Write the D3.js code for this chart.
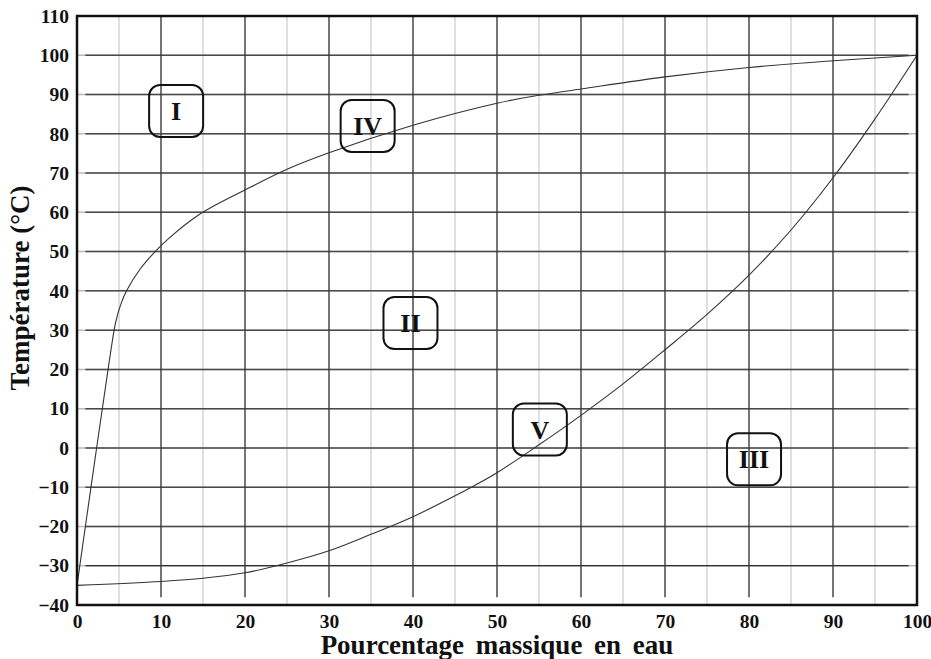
<!DOCTYPE html>
<html>
<head>
<meta charset="utf-8">
<script src="https://cdn.jsdelivr.net/npm/d3@7"></script>
<style>
  body { margin: 0; background: #fff; }
</style>
</head>
<body>
<svg id="chart"></svg>
<script>
// curve: upper boundary (x = % water, y = °C)
const upperX = [0, 2, 3.7, 4.6, 5.2, 5.9, 7.5, 9.3, 11, 14.6, 20, 25, 30, 40, 50, 55, 60, 70, 80, 90, 100];
const upperY = [-35, -5, 20, 32, 36.5, 40, 45.5, 50, 53.5, 59.5, 65.7, 71, 75.2, 82.2, 87.8, 89.8, 91.4, 94.5, 96.9, 98.6, 100];

// lower boundary
const lowerX = [0, 10, 15, 20, 25, 30, 35, 40, 45, 50, 55, 60, 65, 70, 75, 80, 85, 90, 95, 100];
const lowerY = [-35, -34, -33.2, -31.8, -29.3, -26.2, -22, -17.5, -12.2, -6.3, 0.8, 8.3, 16.3, 25, 34, 44, 55.5, 68.8, 83.8, 100];

// region labels
const regionNames = ['I', 'II', 'III', 'IV', 'V'];
const regionX = [11.8, 39.7, 80.6, 34.6, 55.1];
const regionY = [85.8, 31.8, -2.9, 82, 4.7];

const xTicks = [0, 10, 20, 30, 40, 50, 60, 70, 80, 90, 100];
const yTicks = [-40, -30, -20, -10, 0, 10, 20, 30, 40, 50, 60, 70, 80, 90, 100, 110];
const xMinor = [5, 15, 25, 35, 45, 55, 65, 75, 85, 95];

const xTitle = 'Pourcentage massique en eau';
const yTitle = 'Température (°C)';

const serif = '"Liberation Serif", "Times New Roman", Times, "DejaVu Serif", serif';

class PhaseDiagram {

  constructor(_config) {
    this.config = {
      parentElement: _config.parentElement,
      containerWidth: 931,
      containerHeight: 659,
      margin: {top: 16, right: 14, bottom: 54, left: 77},
      boxWidth: 54,
      boxHeight: 52
    }
    this.initVis();
  }

  initVis() {
    let vis = this;

    vis.svg = d3.select(vis.config.parentElement)
        .attr('width', vis.config.containerWidth)
        .attr('height', vis.config.containerHeight)
        .style('font-family', serif)
        .style('font-weight', 'bold');

    vis.chartArea = vis.svg.append('g')
        .attr('transform', `translate(${vis.config.margin.left},${vis.config.margin.top})`);

    vis.width = vis.config.containerWidth - vis.config.margin.left - vis.config.margin.right;
    vis.height = vis.config.containerHeight - vis.config.margin.top - vis.config.margin.bottom;

    vis.xScale = d3.scaleLinear().domain([0, 100]).range([0, vis.width]);
    vis.yScale = d3.scaleLinear().domain([-40, 110]).range([vis.height, 0]);

    vis.renderVis();
  }

  renderVis() {
    let vis = this;
    const x = vis.xScale, y = vis.yScale;

    // minor vertical grid (every 5)
    vis.chartArea.append('g').selectAll('line')
        .data(xMinor)
        .join('line')
        .attr('x1', d => x(d)).attr('x2', d => x(d))
        .attr('y1', 0).attr('y2', vis.height)
        .attr('stroke', '#d4d4d4')
        .attr('stroke-width', 1.5);

    // horizontal grid: faint full length, darker inner part
    const hLines = yTicks.filter(d => d > -40 && d < 110);
    vis.chartArea.append('g').selectAll('line')
        .data(hLines)
        .join('line')
        .attr('x1', 0).attr('x2', vis.width)
        .attr('y1', d => y(d)).attr('y2', d => y(d))
        .attr('stroke', '#bbb')
        .attr('stroke-width', 1.5);
    vis.chartArea.append('g').selectAll('line')
        .data(hLines)
        .join('line')
        .attr('x1', x(1)).attr('x2', x(99))
        .attr('y1', d => y(d)).attr('y2', d => y(d))
        .attr('stroke', d => d === -30 ? '#000' : '#4a4a4a')
        .attr('stroke-width', d => d === -30 ? 1.2 : 1.5);

    // major vertical grid (every 10)
    vis.chartArea.append('g').selectAll('line')
        .data(xTicks.filter(d => d > 0 && d < 100))
        .join('line')
        .attr('x1', d => x(d)).attr('x2', d => x(d))
        .attr('y1', 0).attr('y2', y(-38))
        .attr('stroke', '#3a3a3a')
        .attr('stroke-width', 1.4);

    // boundary curves
    const line = d3.line()
        .x(d => x(d[0]))
        .y(d => y(d[1]))
        .curve(d3.curveCatmullRom.alpha(0.5));

    vis.chartArea.append('path')
        .datum(upperX.map((d, i) => [d, upperY[i]]))
        .attr('d', line)
        .attr('fill', 'none')
        .attr('stroke', '#333')
        .attr('stroke-width', 1.1);

    vis.chartArea.append('path')
        .datum(lowerX.map((d, i) => [d, lowerY[i]]))
        .attr('d', line)
        .attr('fill', 'none')
        .attr('stroke', '#333')
        .attr('stroke-width', 1.1);

    // frame
    vis.chartArea.append('rect')
        .attr('width', vis.width)
        .attr('height', vis.height)
        .attr('fill', 'none')
        .attr('stroke', '#111')
        .attr('stroke-width', 2.5);

    // region labels in rounded boxes
    const regions = vis.chartArea.append('g').selectAll('g')
        .data(regionNames)
        .join('g')
        .attr('transform', (d, i) => `translate(${x(regionX[i])},${y(regionY[i])})`);

    regions.append('rect')
        .attr('x', -vis.config.boxWidth / 2)
        .attr('y', -vis.config.boxHeight / 2)
        .attr('width', vis.config.boxWidth)
        .attr('height', vis.config.boxHeight)
        .attr('rx', 11)
        .attr('fill', 'none')
        .attr('stroke', '#111')
        .attr('stroke-width', 2);

    regions.append('text')
        .attr('text-anchor', 'middle')
        .attr('dy', '0.35em')
        .attr('font-family', serif)
        .attr('font-weight', 'bold')
        .attr('font-size', '26px')
        .attr('fill', '#111')
        .text(d => d);

    // axes (labels only)
    const xAxis = d3.axisBottom(x)
        .tickValues(xTicks)
        .tickSize(0)
        .tickPadding(9);
    const yAxis = d3.axisLeft(y)
        .tickValues(yTicks)
        .tickSize(0)
        .tickPadding(8)
        .tickFormat(d => d < 0 ? '\u2212' + Math.abs(d) : d);

    const gx = vis.chartArea.append('g')
        .attr('transform', `translate(0,${vis.height})`)
        .call(xAxis);
    const gy = vis.chartArea.append('g')
        .call(yAxis);

    [gx, gy].forEach(g => {
      g.attr('font-family', serif).attr('font-size', 19.5);
      g.select('.domain').remove();
      g.selectAll('text')
          .attr('font-weight', 'bold')
          .attr('fill', '#111');
    });

    // axis titles
    vis.svg.append('text')
        .attr('text-anchor', 'middle')
        .attr('font-family', serif)
        .attr('font-weight', 'bold')
        .attr('font-size', '27px')
        .attr('word-spacing', '5px')
        .attr('fill', '#111')
        .attr('x', 497)
        .attr('y', 654)
        .text(xTitle);

    vis.svg.append('text')
        .attr('text-anchor', 'middle')
        .attr('font-family', serif)
        .attr('font-weight', 'bold')
        .attr('font-size', '27px')
        .attr('fill', '#111')
        .attr('transform', 'translate(29,288) rotate(-90)')
        .text(yTitle);
  }
}

new PhaseDiagram({parentElement: '#chart'});
</script>
</body>
</html>
